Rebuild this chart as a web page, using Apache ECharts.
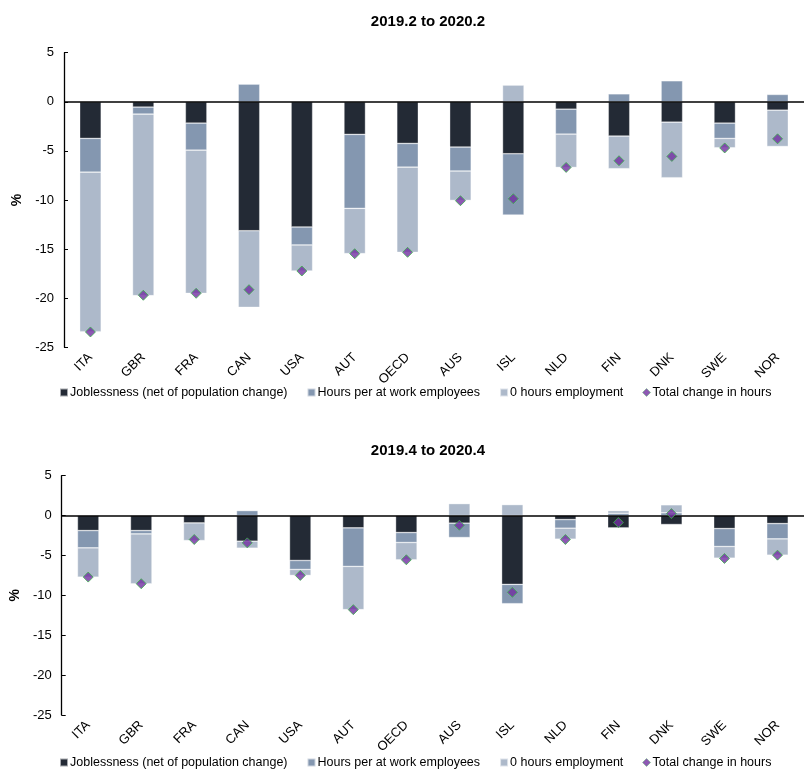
<!DOCTYPE html>
<html>
<head>
<meta charset="utf-8">
<script src="https://cdn.jsdelivr.net/npm/echarts@6/dist/echarts.min.js"></script>
<style>
html,body{margin:0;padding:0;background:#fff;}
#chart{width:804px;height:771px;}
</style>
</head>
<body>
<div id="chart"></div>
<script>
const categories = ['ITA','GBR','FRA','CAN','USA','AUT','OECD','AUS','ISL','NLD','FIN','DNK','SWE','NOR'];
const seriesNames = ['Joblessness (net of population change)','Hours per at work employees','0 hours employment','Total change in hours'];
const titles = ['2019.2 to 2020.2','2019.4 to 2020.4'];

// Panel 1: 2019.2 to 2020.2
const jobless1 = [-3.73,-0.54,-2.17,-13.13,-12.75,-3.32,-4.24,-4.61,-5.29,-0.75,-3.49,-2.07,-2.17,-0.85];
const hours1   = [-3.43,-0.71,-2.75,1.8,-1.83,-7.53,-2.41,-2.44,-6.24,-2.54,0.81,2.14,-1.56,0.75];
const zero1    = [-16.25,-18.49,-14.59,-7.8,-2.65,-4.61,-8.68,-2.99,1.7,-3.39,-3.32,-5.66,-0.95,-3.7];
const total1   = [-23.44,-19.7,-19.5,-19.13,-17.23,-15.47,-15.33,-10.07,-9.87,-6.68,-6.0,-5.56,-4.7,-3.77];

// Panel 2: 2019.4 to 2020.4
const jobless2 = [-1.875,-1.875,-0.92,-3.21,-5.625,-1.54,-2.125,-0.95,-8.625,-0.5,-1.54,-1.12,-1.625,-1.0];
const hours2   = [-2.17,-0.42,0.12,0.625,-1.125,-4.83,-1.25,-1.8,-2.42,-1.08,0.29,0.35,-2.25,-1.92];
const zero2    = [-3.67,-6.25,-2.21,-0.875,-0.75,-5.42,-2.17,1.5,1.375,-1.375,0.33,1.0,-1.46,-2.04];
const total2   = [-7.71,-8.54,-3.0,-3.42,-7.5,-11.79,-5.54,-1.21,-9.625,-3.0,-0.87,0.25,-5.375,-4.96];

const yTicks = {min:-25, max:5, interval:5};

const FONT = '"Liberation Sans", Arial, sans-serif';
const colors = ['#232a35','#8497b0','#adb9ca','#7030a0'];

const chart = echarts.init(document.getElementById('chart'), null, {renderer:'canvas'});

const grids = [
  {left:64, top:52.7, width:750, height:294.6},
  {left:55, top:475.7, width:760, height:239.3}
];

function xAxisFor(i){
  return {
    type:'category', gridIndex:i, data:categories,
    position:'bottom',
    axisLine:{show:false, onZero:false},
    axisTick:{show:false},
    axisLabel:{rotate:45, margin:8, color:'#000', fontFamily:FONT, fontSize:13}
  };
}
function yAxisFor(i){
  return {
    type:'value', gridIndex:i, min:yTicks.min, max:yTicks.max, interval:yTicks.interval,
    name:'%', nameLocation:'middle', nameRotate:90, nameGap: i===0?39:37,
    nameTextStyle:{fontFamily:FONT, fontSize:14, fontWeight:'bold', color:'#000'},
    axisLine:{show:true, lineStyle:{color:'#000', width:1.3}},
    axisTick:{show:true, inside:true, length:4, lineStyle:{color:'#000'}},
    splitLine:{show:false},
    axisLabel:{color:'#000', fontFamily:FONT, fontSize:13, margin:10}
  };
}

function barSeries(name, data, idx, colorIdx, withLine){
  const s = {
    name, type:'bar', xAxisIndex:idx, yAxisIndex:idx, stack:'s'+idx, data,
    barWidth:21.5,
    itemStyle:{color:colors[colorIdx], borderColor:'rgba(255,255,255,0.6)', borderWidth:0.6},
    emphasis:{disabled:true}, animation:false
  };
  if(withLine){
    s.markLine = {
      silent:true, symbol:'none', label:{show:false},
      lineStyle:{color:'#000', width:1.5, type:'solid'},
      data:[{yAxis:0}], animation:false
    };
  }
  return s;
}
function scatterSeries(data, idx){
  return {
    name:seriesNames[3], type:'scatter', xAxisIndex:idx, yAxisIndex:idx, data,
    symbol:'diamond', symbolSize:10, z:5,
    itemStyle:{color:'#7030a0', borderColor:'#3cb44b', borderWidth:1},
    emphasis:{disabled:true}, animation:false
  };
}

const legendBase = (top) => ({
  top, left:57, padding:[2,2,2,2],
  itemWidth:8, itemHeight:8, itemGap:19,
  textStyle:{fontFamily:FONT, fontSize:12.5, color:'#000', padding:[0,0,0,-3]},
  data:[
    {name:seriesNames[0], icon:'rect'},
    {name:seriesNames[1], icon:'rect'},
    {name:seriesNames[2], icon:'rect'},
    {name:seriesNames[3], icon:'diamond', itemStyle:{color:'#7030a0', borderColor:'#3cb44b', borderWidth:0.5}}
  ],
  selectedMode:false
});

chart.setOption({
  animation:false,
  backgroundColor:'#fff',
  color:colors,
  title:[
    {text:titles[0], left:423, top:9, textAlign:'center', textStyle:{fontFamily:FONT, fontSize:15, fontWeight:'bold', color:'#000'}},
    {text:titles[1], left:423, top:438, textAlign:'center', textStyle:{fontFamily:FONT, fontSize:15, fontWeight:'bold', color:'#000'}}
  ],
  legend:[legendBase(384), legendBase(754)],
  grid:grids,
  xAxis:[xAxisFor(0), xAxisFor(1)],
  yAxis:[yAxisFor(0), yAxisFor(1)],
  series:[
    barSeries(seriesNames[0], jobless1, 0, 0, true),
    barSeries(seriesNames[1], hours1, 0, 1, false),
    barSeries(seriesNames[2], zero1, 0, 2, false),
    scatterSeries(total1, 0),
    barSeries(seriesNames[0], jobless2, 1, 0, true),
    barSeries(seriesNames[1], hours2, 1, 1, false),
    barSeries(seriesNames[2], zero2, 1, 2, false),
    scatterSeries(total2, 1)
  ]
});
</script>
</body>
</html>
